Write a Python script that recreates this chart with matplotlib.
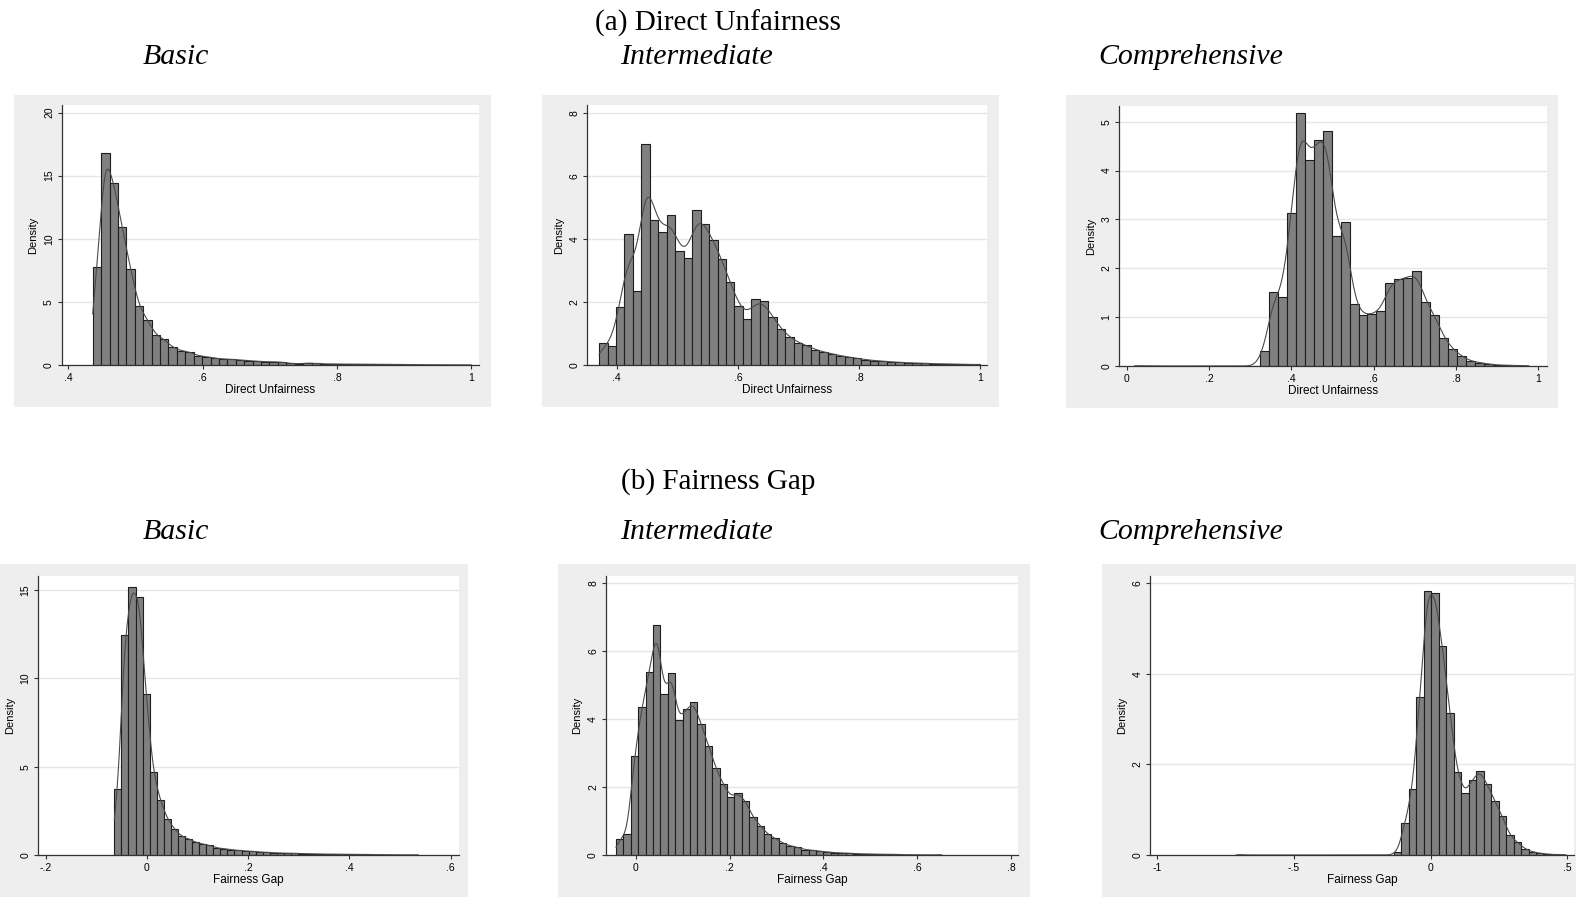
import math
import numpy as np
import matplotlib
matplotlib.use("Agg")
import matplotlib.pyplot as plt
from matplotlib.patches import Rectangle

plt.rcParams['font.family'] = ['Liberation Sans', 'DejaVu Sans']

W, H = 1576, 897

# density histograms: first bin edge, bin width, bar heights
du_basic_start, du_basic_width = 0.4362, 0.01253
du_basic = [7.79, 16.78, 14.40, 10.91, 7.61, 4.68, 3.57, 2.40, 2.03, 1.40,
            1.14, 1.03, 0.74, 0.66, 0.53, 0.48, 0.45, 0.40, 0.34, 0.29,
            0.26, 0.26, 0.22, 0.12, 0.10, 0.16, 0.12, 0.09, 0.08, 0.07,
            0.07, 0.06, 0.06, 0.05, 0.05, 0.04, 0.06, 0.03, 0.03, 0.02,
            0.02, 0.02, 0.02, 0.01, 0.01]

du_inter_start, du_inter_width = 0.3708, 0.01398
du_inter = [0.69, 0.59, 1.84, 4.14, 2.34, 7.01, 4.59, 4.21, 4.77, 3.60,
            3.38, 4.93, 4.46, 3.95, 3.36, 2.62, 1.88, 1.47, 2.08, 2.02,
            1.53, 1.13, 0.88, 0.71, 0.62, 0.49, 0.41, 0.36, 0.29, 0.25,
            0.21, 0.17, 0.14, 0.12, 0.10, 0.08, 0.07, 0.06, 0.05, 0.04,
            0.04, 0.03, 0.03, 0.02, 0.02]

du_comp_start, du_comp_width = 0.0192, 0.02176
du_comp = [0.01, 0, 0, 0, 0, 0, 0, 0, 0, 0, 0, 0, 0, 0,
           0.31, 1.51, 1.41, 3.13, 5.18, 4.21, 4.63, 4.80, 2.66, 2.94,
           1.27, 1.04, 1.06, 1.12, 1.70, 1.77, 1.81, 1.94, 1.31, 1.05,
           0.58, 0.35, 0.20, 0.10, 0.07, 0.04, 0.02, 0.015, 0.01, 0.01]

fg_basic_start, fg_basic_width = -0.0644, 0.01396
fg_basic = [3.72, 12.45, 15.17, 14.58, 9.09, 4.72, 3.11, 2.06, 1.47, 1.06,
            0.92, 0.72, 0.62, 0.55, 0.40, 0.36, 0.30, 0.26, 0.23, 0.21,
            0.17, 0.15, 0.13, 0.11, 0.10, 0.09, 0.08, 0.07, 0.06, 0.05,
            0.05, 0.04, 0.04, 0.03, 0.03, 0.03, 0.02, 0.02, 0.02, 0.01,
            0.01, 0.01, 0.02]

fg_inter_start, fg_inter_width = -0.0427, 0.0158
fg_inter = [0.46, 0.62, 2.91, 4.35, 5.38, 6.77, 4.73, 5.37, 3.96, 4.30,
            4.49, 3.85, 3.22, 2.55, 2.08, 1.71, 1.82, 1.59, 1.11, 0.86,
            0.61, 0.49, 0.35, 0.27, 0.23, 0.16, 0.14, 0.11, 0.09, 0.07,
            0.06, 0.05, 0.04, 0.03, 0.03, 0.02, 0.02, 0.02, 0.01, 0.01,
            0.01, 0.01, 0.0, 0.01]

fg_comp_start, fg_comp_width = -0.711, 0.0274
fg_comp = [0.01, 0, 0, 0, 0, 0, 0, 0, 0, 0, 0, 0, 0, 0, 0, 0, 0, 0, 0, 0, 0,
           0.07, 0.70, 1.45, 3.49, 5.83, 5.78, 4.62, 3.14, 1.83, 1.38,
           1.66, 1.86, 1.56, 1.19, 0.86, 0.44, 0.28, 0.14, 0.07, 0.04,
           0.02, 0.01, 0.01]

variants = ["Basic", "Intermediate", "Comprehensive"]

_erf = np.vectorize(math.erf)


def kdensity(start, width, heights, bw, n=500):
    # gaussian smoothing of the histogram density over the data range
    h = np.asarray(heights, dtype=float)
    edges = start + width * np.arange(len(h) + 1)
    nz = np.nonzero(h)[0]
    x = np.linspace(edges[nz[0]], edges[nz[-1] + 1], n)
    cdf = lambda z: 0.5 * (1 + _erf(z / np.sqrt(2)))
    y = np.zeros_like(x)
    for hk, a, b in zip(h, edges[:-1], edges[1:]):
        if hk > 0:
            y += hk * (cdf((x - a) / bw) - cdf((x - b) / bw))
    return x, y


def stata_fmt(v):
    s = f"{v:g}"
    return s.replace("0.", ".")


def frac(x0, y0, x1, y1):
    return [x0 / W, 1 - y1 / H, (x1 - x0) / W, (y1 - y0) / H]


fig = plt.figure(figsize=(W / 100, H / 100), dpi=100)

panels = [
    # grey region, plot region, data, bandwidth, xlim, ylim, xticks, yticks, xlabel
    ((14, 95, 491, 407), (61.7, 105, 479, 365),
     (du_basic_start, du_basic_width, du_basic), 0.006,
     (0.390, 1.0114), (0, 20.6), [.4, .6, .8, 1], [0, 5, 10, 15, 20], "Direct Unfairness"),
    ((542, 95, 999, 407), (587.3, 105, 987.3, 365),
     (du_inter_start, du_inter_width, du_inter), 0.011,
     (0.3514, 1.012), (0, 8.245), [.4, .6, .8, 1], [0, 2, 4, 6, 8], "Direct Unfairness"),
    ((1066, 95, 1558, 408), (1119, 106, 1546.7, 366),
     (du_comp_start, du_comp_width, du_comp), 0.014,
     (-0.0187, 1.0204), (0, 5.32), [0, .2, .4, .6, .8, 1], [0, 1, 2, 3, 4, 5], "Direct Unfairness"),
    ((0, 564, 468, 897), (38.3, 575.7, 459.3, 855),
     (fg_basic_start, fg_basic_width, fg_basic), 0.0065,
     (-0.2146, 0.617), (0, 15.81), [-.2, 0, .2, .4, .6], [0, 5, 10, 15], "Fairness Gap"),
    ((558, 564, 1030, 897), (605.7, 575.7, 1018.3, 855),
     (fg_inter_start, fg_inter_width, fg_inter), 0.008,
     (-0.0646, 0.8156), (0, 8.22), [0, .2, .4, .6, .8], [0, 2, 4, 6, 8], "Fairness Gap"),
    ((1101.7, 564, 1576, 897), (1150, 575.7, 1574, 855),
     (fg_comp_start, fg_comp_width, fg_comp), 0.013,
     (-1.0268, 0.524), (0, 6.17), [-1, -.5, 0, .5], [0, 2, 4, 6], "Fairness Gap"),
]

for grey, box, (start, width, heights), bw, xlim, ylim, xt, yt, xlab in panels:
    gx0, gy0, gx1, gy1 = grey
    fig.patches.append(Rectangle((gx0 / W, 1 - gy1 / H), (gx1 - gx0) / W, (gy1 - gy0) / H,
                                 transform=fig.transFigure, facecolor="#eeeeee",
                                 edgecolor="none", zorder=-10))
    ax = fig.add_axes(frac(*box))
    ax.set_facecolor("white")
    edges = start + width * np.arange(len(heights))
    ax.bar(edges, heights, width=width, align="edge", color="#808080",
           edgecolor="#1e1e1e", linewidth=0.8, zorder=2)
    kx, ky = kdensity(start, width, heights, bw)
    ax.plot(kx, ky, color="#4a4a4a", linewidth=0.8, zorder=3)
    ax.set_xlim(*xlim)
    ax.set_ylim(*ylim)
    ax.set_xticks(xt)
    ax.set_xticklabels([stata_fmt(v) for v in xt])
    ax.set_yticks(yt)
    ax.set_yticklabels([stata_fmt(v) for v in yt], rotation=90, va="center")
    ax.yaxis.grid(True, color="#e6e6e6", linewidth=1.0, zorder=0)
    ax.set_axisbelow(True)
    for s in ("top", "right"):
        ax.spines[s].set_visible(False)
    for s in ("left", "bottom"):
        ax.spines[s].set_color("#333333")
        ax.spines[s].set_linewidth(0.9)
    ax.tick_params(axis="both", direction="out", length=3, width=0.8,
                   color="#333333", labelsize=7.5, pad=2.5)
    ax.set_xlabel(xlab, fontsize=8.5, labelpad=1)
    ax.set_ylabel("Density", fontsize=8, labelpad=4)

serif = ['Liberation Serif', 'DejaVu Serif']
fig.text(718 / W, 1 - 23 / H, "(a) Direct Unfairness", ha="center", va="center",
         fontsize=21, family=serif)
fig.text(718 / W, 1 - 482 / H, "(b) Fairness Gap", ha="center", va="center",
         fontsize=21, family=serif)
for x, name in zip([143, 620, 1098], variants):
    fig.text(x / W, 1 - 57 / H, name, ha="left", va="center", fontsize=21.5,
             style="italic", family=serif)
    fig.text(x / W, 1 - 532 / H, name, ha="left", va="center", fontsize=21.5,
             style="italic", family=serif)

fig.savefig("out.png", dpi=100)
